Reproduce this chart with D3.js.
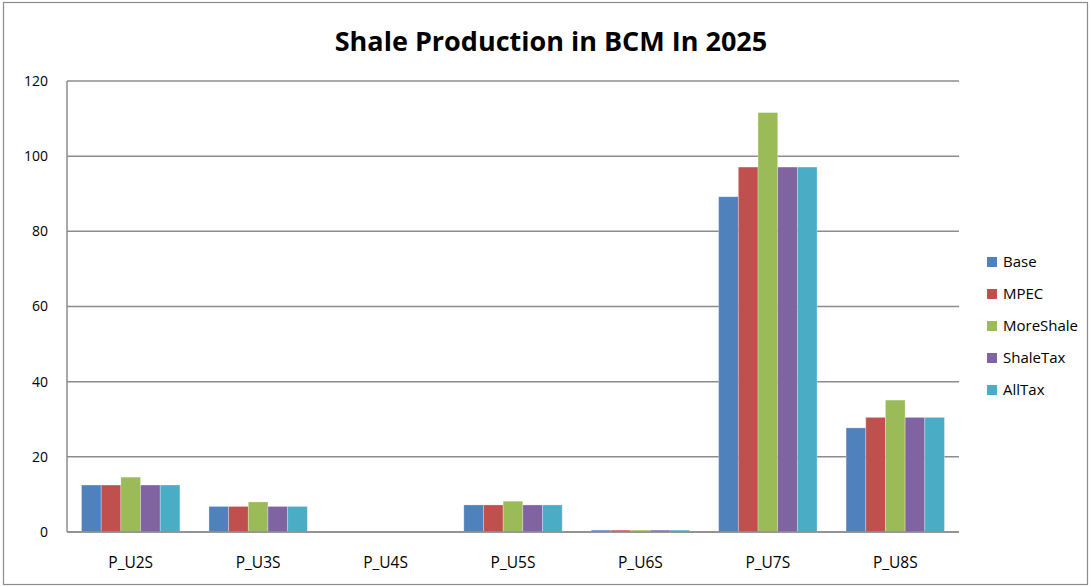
<!DOCTYPE html>
<html lang="en">
<head>
    <meta charset="UTF-8">
    <title>Shale Production in BCM In 2025</title>
    <script src="https://d3js.org/d3.v7.min.js"></script>
    <style>
        body { margin: 0; background: #fff; }
        text { font-family: "Open Sans", "Noto Sans", sans-serif; fill: #000; }
        .grid line { stroke: #8c8c8c; stroke-width: 1.5px; }
    </style>
</head>
<body>
    <script>
        // Data
        const categories = ["P_U2S", "P_U3S", "P_U4S", "P_U5S", "P_U6S", "P_U7S", "P_U8S"];
        const seriesNames = ["Base", "MPEC", "MoreShale", "ShaleTax", "AllTax"];
        const colors = ["#4F81BD", "#C0504D", "#9BBB59", "#8064A2", "#4BACC6"];
        const base      = [12.5, 6.8, 0, 7.2, 0.5, 89.2, 27.7];
        const mpec      = [12.5, 6.8, 0, 7.2, 0.5, 97.1, 30.5];
        const moreShale = [14.6, 8.0, 0, 8.2, 0.5, 111.6, 35.1];
        const shaleTax  = [12.5, 6.8, 0, 7.2, 0.5, 97.1, 30.5];
        const allTax    = [12.5, 6.8, 0, 7.2, 0.5, 97.1, 30.5];
        const yTicks = [0, 20, 40, 60, 80, 100, 120];

        const seriesValues = [base, mpec, moreShale, shaleTax, allTax];

        const width = 1091;
        const height = 587;
        const plot = { left: 67, right: 959, top: 81, bottom: 532 };

        const svg = d3.select("body")
            .append("svg")
            .attr("width", width)
            .attr("height", height);

        // outer chart border
        svg.append("rect")
            .attr("x", 3.5).attr("y", 2.5)
            .attr("width", 1084).attr("height", 582)
            .attr("fill", "#fff")
            .attr("stroke", "#8c8c8c")
            .attr("stroke-width", 1.2);

        const x0 = d3.scaleBand()
            .domain(categories)
            .range([plot.left, plot.right])
            .paddingInner(0.228)
            .paddingOuter(0.114);

        const x1 = d3.scaleBand()
            .domain(seriesNames)
            .range([0, x0.bandwidth()]);

        const y = d3.scaleLinear()
            .domain([0, 120])
            .range([plot.bottom, plot.top]);

        // gridlines
        svg.append("g")
            .attr("class", "grid")
            .selectAll("line")
            .data(yTicks)
            .enter()
            .append("line")
            .attr("x1", plot.left)
            .attr("x2", plot.right)
            .attr("y1", d => y(d))
            .attr("y2", d => y(d));

        // y axis line
        svg.append("line")
            .attr("x1", plot.left).attr("x2", plot.left)
            .attr("y1", plot.top).attr("y2", plot.bottom)
            .attr("stroke", "#8c8c8c")
            .attr("stroke-width", 1.5);

        // y tick labels
        svg.append("g")
            .selectAll("text")
            .data(yTicks)
            .enter()
            .append("text")
            .attr("x", 48)
            .attr("y", d => y(d))
            .attr("dy", "0.35em")
            .attr("text-anchor", "end")
            .style("font-size", "14px")
            .text(d => d);

        // bars
        const rows = categories.map((c, i) => ({
            cat: c,
            vals: seriesNames.map((s, j) => ({ name: s, value: seriesValues[j][i], color: colors[j] }))
        }));

        svg.append("g")
            .selectAll("g")
            .data(rows)
            .enter()
            .append("g")
            .attr("transform", d => `translate(${x0(d.cat)},0)`)
            .selectAll("rect")
            .data(d => d.vals)
            .enter()
            .append("rect")
            .attr("x", d => x1(d.name))
            .attr("y", d => y(d.value))
            .attr("width", x1.bandwidth())
            .attr("height", d => y(0) - y(d.value))
            .attr("fill", d => d.color)
            .attr("stroke", "rgba(255,255,255,0.35)")
            .attr("stroke-width", 0.8);

        // baseline redrawn over bars
        svg.append("line")
            .attr("x1", plot.left).attr("x2", plot.right)
            .attr("y1", y(0)).attr("y2", y(0))
            .attr("stroke", "#8c8c8c")
            .attr("stroke-width", 1.5);

        // x labels
        svg.append("g")
            .selectAll("text")
            .data(categories)
            .enter()
            .append("text")
            .attr("x", d => x0(d) + x0.bandwidth() / 2)
            .attr("y", 563)
            .attr("dy", "0.35em")
            .attr("text-anchor", "middle")
            .style("font-size", "15.5px")
            .text(d => d);

        // title
        svg.append("text")
            .attr("x", 551)
            .attr("y", 42)
            .attr("dy", "0.35em")
            .attr("text-anchor", "middle")
            .style("font-size", "27px")
            .style("font-weight", "bold")
            .text("Shale Production in BCM In 2025");

        // legend
        const legend = svg.append("g")
            .selectAll("g")
            .data(seriesNames)
            .enter()
            .append("g")
            .attr("transform", (d, i) => `translate(987,${262 + i * 32})`);

        legend.append("rect")
            .attr("x", 0).attr("y", -5)
            .attr("width", 10).attr("height", 10)
            .attr("fill", (d, i) => colors[i]);

        legend.append("text")
            .attr("x", 16)
            .attr("y", 0)
            .attr("dy", "0.35em")
            .style("font-size", "15px")
            .text(d => d);
    </script>
</body>
</html>
